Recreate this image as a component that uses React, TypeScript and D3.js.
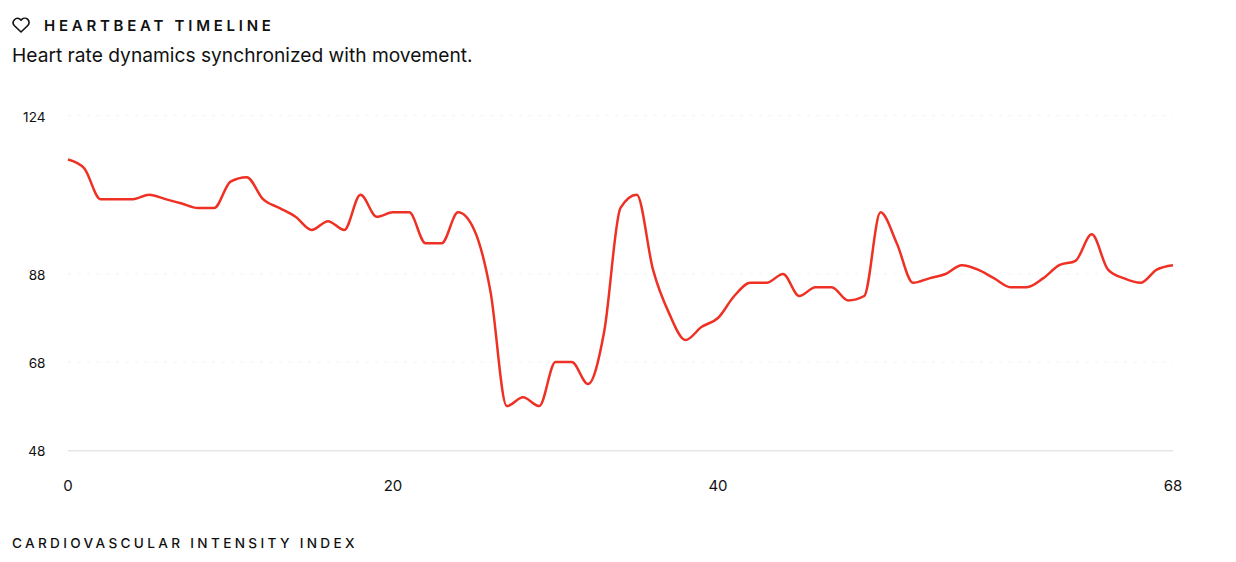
import React from "react";
import * as d3 from "d3";

const seconds = d3.range(0, 69);
const heartRate = [
  114, 112, 105, 105, 105, 106, 105, 104, 103, 103, 109, 110, 105, 103, 101, 98, 100, 98, 106, 101,
  102, 102, 95, 95, 102, 98, 84, 58, 60, 58, 68, 68, 63, 75, 103, 106, 89, 79, 73, 76,
  78, 83, 86, 86, 88, 83, 85, 85, 82, 83, 102, 95, 86, 87, 88, 90, 89, 87, 85, 85,
  87, 90, 91, 97, 89, 87, 86, 89, 90,
];
const yTicks = [48, 68, 88, 124];
const xTicks = [0, 20, 40, 68];

const title = "HEARTBEAT TIMELINE";
const subtitle = "Heart rate dynamics synchronized with movement.";
const footer = "CARDIOVASCULAR INTENSITY INDEX";

const FONT = "Inter, sans-serif";

export default function App() {
  const x = d3.scaleLinear().domain([0, 68]).range([68, 1173]);
  const y = d3.scaleLinear().domain([48, 124]).range([450.1, 115.5]);
  const line = d3
    .line<number>()
    .x((_, i) => x(seconds[i]))
    .y((d) => y(d))
    .curve(d3.curveMonotoneX);

  return (
    <svg
      width={1236}
      height={562}
      style={{ position: "absolute", left: 0, top: 0, background: "#fff" }}
      fontFamily={FONT}
    >
      <g transform="translate(12,16)" fill="none" stroke="#111" strokeWidth={1.6} strokeLinecap="round" strokeLinejoin="round">
        <path d="M15.8 3.4a4.3 4.3 0 0 0-6 0L9 4.2l-.8-.8a4.3 4.3 0 0 0-6 6.1L9 16l6.8-6.5a4.3 4.3 0 0 0 0-6.1z" />
      </g>
      <text x={44} y={31} fontSize={15} fontWeight={600} letterSpacing={3.75} fill="#111">
        {title}
      </text>
      <text x={12} y={62} fontSize={19.2} fill="#111">
        {subtitle}
      </text>

      {yTicks.slice(1).map((t) => (
        <line key={t} x1={68} x2={1173} y1={y(t) - 0.1} y2={y(t) - 0.1} stroke="#f2f2f2" strokeWidth={1} strokeDasharray="3 6.6" />
      ))}
      <line x1={68} x2={1173} y1={450.8} y2={450.8} stroke="#e6e6e6" strokeWidth={1.5} />

      {yTicks.map((t) => (
        <text key={t} x={45.5} y={y(t) + 1.4} dy="0.35em" textAnchor="end" fontSize={13.6} fill="#111">
          {t}
        </text>
      ))}
      {xTicks.map((t) => (
        <text key={t} x={x(t)} y={490.5} textAnchor="middle" fontSize={15} fill="#111">
          {t}
        </text>
      ))}

      <path d={line(heartRate) ?? ""} fill="none" stroke="#ee3124" strokeWidth={2.5} strokeLinejoin="round" />

      <text x={12} y={548} fontSize={13.6} fontWeight={500} letterSpacing={3.33} fill="#111">
        {footer}
      </text>
    </svg>
  );
}
